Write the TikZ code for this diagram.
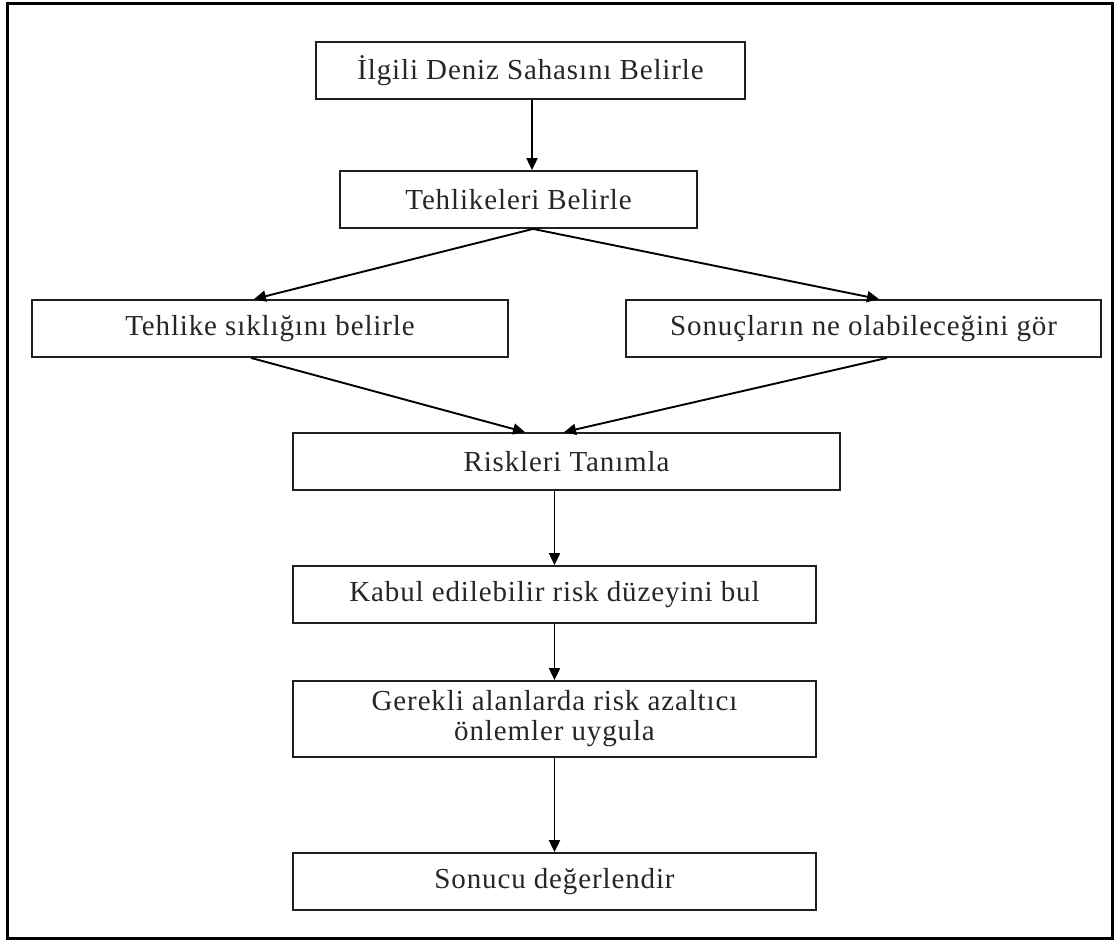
\documentclass[tikz,border=0pt]{standalone}
\usepackage{fontspec}
\setmainfont{Liberation Serif}[LetterSpace=3]
\usetikzlibrary{arrows.meta}
\begin{document}
\begin{tikzpicture}[x=1pt,y=-1pt,
  stepbox/.style={draw=black!88,line width=1.8pt,rectangle,inner sep=0pt,
    align=center,font=\fontsize{29}{30}\selectfont,text=black!85},
  arr/.style={draw=black,line width=1.9pt,
    -{Triangle[length=12pt,width=11pt]}},
  frame/.style={draw=black,line width=3pt}]
\useasboundingbox (0,0) rectangle (1115,940);
% outer frame
\draw[frame] (7.2,3) rectangle (1112.3,938.3);

% process steps
\node[stepbox,minimum width=429pt,minimum height=57pt] (b1) at (530.5,70.5) {İlgili Deniz Sahasını Belirle};
\node[stepbox,minimum width=357pt,minimum height=57pt] (b2) at (518.5,199.5) {Tehlikeleri Belirle};
\node[stepbox,minimum width=476pt,minimum height=57pt] (b3) at (270,328.5) {Tehlike sıklığını belirle};
\node[stepbox,minimum width=475pt,minimum height=57pt] (b4) at (863.5,328.5) {Sonuçların ne olabileceğini gör};
\node[stepbox,minimum width=547pt,minimum height=57pt] (b5) at (566.5,461.5) {Riskleri Tanımla};
\node[stepbox,minimum width=523pt,minimum height=57pt] (b6) at (554.5,594.5) {Kabul edilebilir risk düzeyini bul};
\node[stepbox,minimum width=523pt,minimum height=76pt] (b7) at (554.5,719) {Gerekli alanlarda risk azaltıcı\\önlemler uygula};
\node[stepbox,minimum width=523pt,minimum height=57pt] (b8) at (554.5,881.5) {Sonucu değerlendir};

% connectors
\draw[arr] ([xshift=1.5pt]b1.south) -- ([xshift=1.5pt]b1.south |- b2.north);
\draw[arr] ([xshift=14.5pt]b2.south) -- ([xshift=-16pt]b3.north);
\draw[arr] ([xshift=14.5pt]b2.south) -- ([xshift=15.5pt]b4.north);
\draw[arr] ([xshift=-19pt]b3.south) -- ([xshift=-41.5pt]b5.north);
\draw[arr] ([xshift=23.5pt]b4.south) -- ([xshift=-2.5pt]b5.north);
\draw[arr] (b6.north |- b5.south) -- (b6.north);
\draw[arr] (b6.south) -- (b7.north);
\draw[arr] (b7.south) -- (b8.north);
\end{tikzpicture}
\end{document}
